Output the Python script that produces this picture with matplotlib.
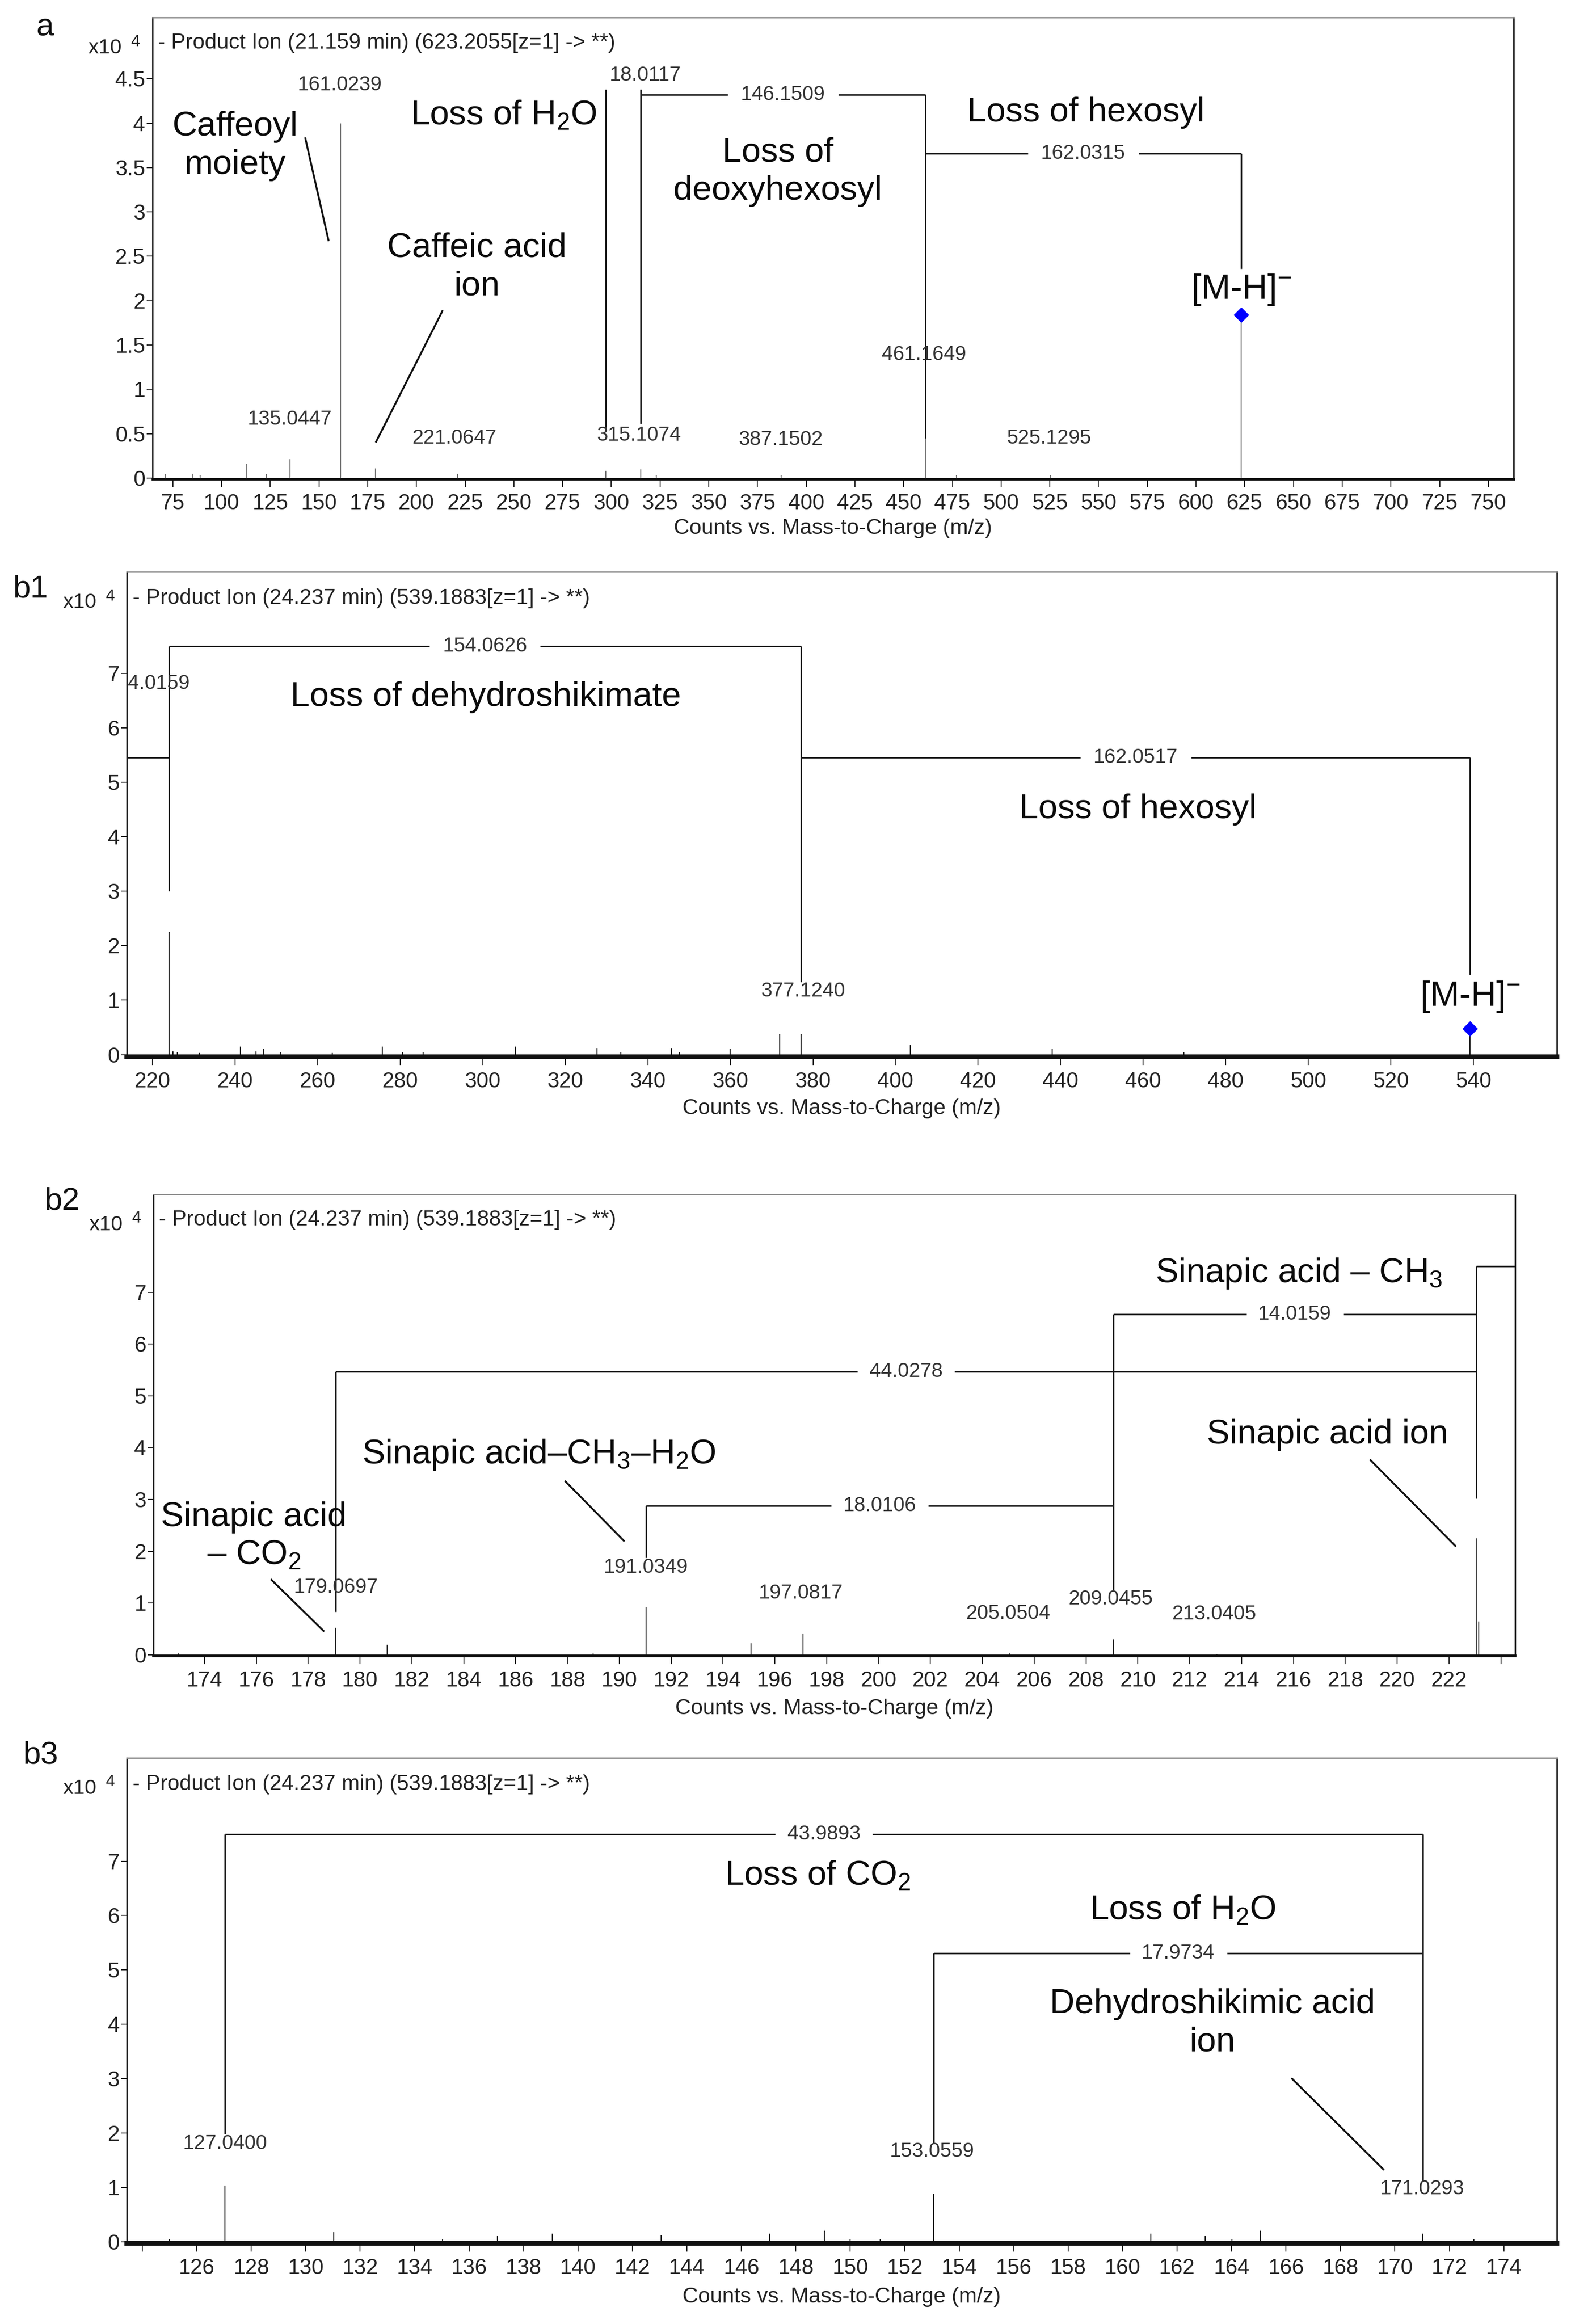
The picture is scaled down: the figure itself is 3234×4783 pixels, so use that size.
import matplotlib
matplotlib.use('Agg')
import matplotlib.pyplot as plt
from matplotlib import font_manager

W, H, DPI = 3234, 4783, 100
PT = DPI / 72.0

plt.rcParams['font.family'] = ['Liberation Sans', 'DejaVu Sans']
plt.rcParams['mathtext.fontset'] = 'custom'
plt.rcParams['mathtext.rm'] = 'Liberation Sans'
plt.rcParams['mathtext.it'] = 'Liberation Sans'
plt.rcParams['mathtext.bf'] = 'Liberation Sans:bold'
plt.rcParams['mathtext.sf'] = 'Liberation Sans'

try:
    font_manager.findfont(font_manager.FontProperties(family='Liberation Sans Narrow'),
                          fallback_to_default=False)
    TICK_FAMILY = ['Liberation Sans Narrow', 'Liberation Sans']
    TICK_FS = 36
except Exception:
    TICK_FAMILY = ['Liberation Sans', 'DejaVu Sans']
    TICK_FS = 32

# ---------------- data ----------------
# panel a
a_mz = [71.0, 85.0, 89.0, 113.0, 123.0, 135.04, 161.02, 179.03, 221.06, 297.10,
        315.11, 323.0, 387.15, 461.16, 477.0, 525.13, 623.21]
a_int = [0.04, 0.05, 0.03, 0.16, 0.04, 0.21, 4.00, 0.11, 0.05, 0.08,
         0.10, 0.03, 0.03, 0.45, 0.03, 0.03, 1.84]
a_peak_labels = ['135.0447', '161.0239', '221.0647', '315.1074', '387.1502', '461.1649', '525.1295']
a_xticks = list(range(75, 751, 25))
a_yticks = [0, 0.5, 1, 1.5, 2, 2.5, 3, 3.5, 4, 4.5]

# panel b1
b1_mz = [224.02, 225.0, 226.0, 231.3, 241.3, 245.1, 247.0, 251.0, 263.6, 275.7, 280.6,
         285.6, 307.9, 327.7, 333.5, 345.7, 347.7, 359.9, 371.9, 377.12, 403.6, 438.0,
         469.8, 539.19]
b1_int = [2.25, 0.06, 0.05, 0.03, 0.15, 0.06, 0.10, 0.04, 0.03, 0.15, 0.04,
          0.04, 0.15, 0.12, 0.04, 0.12, 0.05, 0.10, 0.38, 0.38, 0.17, 0.10,
          0.05, 0.48]
b1_peak_labels = ['4.0159', '377.1240']
b1_xticks = list(range(220, 541, 20))
b1_yticks = [0, 1, 2, 3, 4, 5, 6, 7]

# panel b2
b2_mz = [173.0, 179.07, 181.04, 189.0, 191.03, 195.08, 197.08, 205.05, 209.05,
         213.04, 223.06, 223.15]
b2_int = [0.03, 0.52, 0.20, 0.03, 0.93, 0.22, 0.40, 0.03, 0.30,
          0.02, 2.25, 0.65]
b2_peak_labels = ['179.0697', '191.0349', '197.0817', '205.0504', '209.0455', '213.0405']
b2_xticks = list(range(174, 225, 2))
b2_yticks = [0, 1, 2, 3, 4, 5, 6, 7]

# panel b3
b3_mz = [125.0, 127.04, 131.03, 135.03, 137.04, 139.05, 143.05, 147.03, 149.05,
         150.0, 151.1, 153.06, 161.04, 163.04, 164.02, 165.07, 171.03, 172.9]
b3_int = [0.05, 1.03, 0.18, 0.05, 0.10, 0.15, 0.12, 0.15, 0.20,
          0.04, 0.04, 0.88, 0.15, 0.10, 0.05, 0.20, 0.15, 0.05]
b3_peak_labels = ['127.0400', '153.0559', '171.0293']
b3_xticks = list(range(124, 175, 2))
b3_yticks = [0, 1, 2, 3, 4, 5, 6, 7]

headers = ['- Product Ion (21.159 min) (623.2055[z=1] -> **)',
           '- Product Ion (24.237 min) (539.1883[z=1] -> **)',
           '- Product Ion (24.237 min) (539.1883[z=1] -> **)',
           '- Product Ion (24.237 min) (539.1883[z=1] -> **)']
xlabel = 'Counts vs. Mass-to-Charge (m/z)'

# ---------------- styles ----------------
LINE_C = '#1a1a1a'
NUM_C = '#333333'
NUM_FS = 30
ANN_FS = 51

fig = plt.figure(figsize=(W / DPI, H / DPI), dpi=DPI)


def rect(l, r, t, b):
    return [l / W, 1 - b / H, (r - l) / W, (b - t) / H]


def fmt(v):
    return ('%g' % v)


def make_axes(px, xlim, ylim, xticks, yticks, hide_x=(), header='', xlab_off=75,
              base_lw=3.5):
    ax = fig.add_axes(rect(*px))
    ax.set_xlim(*xlim)
    ax.set_ylim(*ylim)
    ax.set_xticks(xticks)
    ax.set_xticklabels(['' if t in hide_x else fmt(t) for t in xticks],
                       family=TICK_FAMILY)
    ax.set_yticks(yticks)
    ax.set_yticklabels([fmt(t) for t in yticks], family=TICK_FAMILY)
    ax.tick_params(axis='x', direction='out', length=12, width=1.5, pad=10,
                   labelsize=TICK_FS, colors='#222222')
    ax.tick_params(axis='y', direction='out', length=9, width=1.5, pad=1.5,
                   labelsize=TICK_FS, colors='#222222')
    ax.spines['top'].set_color('#8a8a8a')
    ax.spines['top'].set_linewidth(2.0)
    ax.spines['right'].set_color('#111111')
    ax.spines['right'].set_linewidth(2.2)
    ax.spines['left'].set_color('#111111')
    ax.spines['left'].set_linewidth(2.0)
    ax.spines['bottom'].set_color('#111111')
    ax.spines['bottom'].set_linewidth(base_lw)
    ax.text(0.004, 0.945, header, transform=ax.transAxes, ha='left', va='center',
            fontsize=32, color='#222222')
    ax.annotate(xlabel, xy=(0.5, 0), xycoords='axes fraction',
                xytext=(0, -xlab_off), textcoords='offset points',
                ha='center', va='center', fontsize=TICK_FS, color='#222222',
                family=TICK_FAMILY)
    ax.annotate('x10', xy=(0, 1), xycoords='axes fraction', xytext=(-70, -45),
                textcoords='offset points', ha='center', va='center',
                fontsize=31, color='#222222')
    ax.annotate('4', xy=(0, 1), xycoords='axes fraction', xytext=(-25, -36),
                textcoords='offset points', ha='center', va='center',
                fontsize=24, color='#222222')
    return ax


def peaks(ax, mz, inten, color):
    ax.vlines(mz, 0, inten, colors=color, lw=1.6, zorder=2)


def vseg(ax, x, y0, y1):
    ax.vlines([x], y0, y1, colors=LINE_C, lw=2.3, zorder=3)


def hbracket(ax, x0, x1, y, label=None, xc=None, half_px=None):
    if label is None:
        ax.hlines([y], x0, x1, colors=LINE_C, lw=2.3, zorder=3)
        return
    if xc is None:
        xc = 0.5 * (x0 + x1)
    if half_px is None:
        half_px = 14.0 * len(label) + 2
    p = ax.transData.transform((xc, y))
    xl = ax.transData.inverted().transform((p[0] - half_px, p[1]))[0]
    xr = ax.transData.inverted().transform((p[0] + half_px, p[1]))[0]
    ax.hlines([y, y], [x0, xr], [xl, x1], colors=LINE_C, lw=2.3, zorder=3)
    ax.text(xc, y, label, ha='center', va='center', fontsize=NUM_FS, color=NUM_C, zorder=4)


def leader(ax, p0, p1):
    ax.plot([p0[0], p1[0]], [p0[1], p1[1]], color='#111111', lw=2.8,
            solid_capstyle='butt', zorder=3)


def num(ax, x, y, s, **kw):
    ax.text(x, y, s, ha=kw.pop('ha', 'center'), va='center', fontsize=NUM_FS,
            color=NUM_C, zorder=4, **kw)


def ann(ax, x, y, s, fs=ANN_FS):
    ax.text(x, y, s, ha='center', va='center', fontsize=fs, color='#0a0a0a',
            linespacing=1.25, zorder=4)


def panel_label(px, py, s):
    fig.text(px / W, 1 - py / H, s, ha='center', va='center', fontsize=47, color='#111111')


# ================= panel a =================
axa = make_axes((313.6, 3116, 36.5, 985.6), (64.5, 763), (-0.01, 5.19),
                a_xticks, a_yticks, header=headers[0], xlab_off=(1087 - 985.6) / PT,
                base_lw=3.5)
peaks(axa, a_mz, a_int, '#707070')
vseg(axa, a_mz[9], 0.57, 4.38)
vseg(axa, a_mz[10], 0.61, 4.38)
vseg(axa, a_mz[13], 0.45, 4.32)
vseg(axa, a_mz[16], 2.36, 3.66)
hbracket(axa, a_mz[10], a_mz[13], 4.32, '146.1509')
hbracket(axa, a_mz[13], a_mz[16], 3.66, '162.0315')
num(axa, 317.5, 4.54, '18.0117')
num(axa, 135.06, 0.66, a_peak_labels[0])
num(axa, 160.8, 4.43, a_peak_labels[1])
num(axa, 219.7, 0.45, a_peak_labels[2])
num(axa, 314.2, 0.48, a_peak_labels[3])
num(axa, 386.9, 0.43, a_peak_labels[4])
num(axa, 460.4, 1.39, a_peak_labels[5])
num(axa, 524.6, 0.45, a_peak_labels[6])
axa.plot([a_mz[16]], [a_int[16]], marker='D', color='#0000ff', ms=15, mec='#0000ff', zorder=5)
ann(axa, 107, 3.745, 'Caffeoyl\nmoiety')
leader(axa, (142.9, 3.84), (155.0, 2.67))
ann(axa, 231.1, 2.375, 'Caffeic acid\nion')
leader(axa, (213.5, 1.89), (179.1, 0.40))
ann(axa, 244.7, 4.08, 'Loss of H$_2$O')
ann(axa, 385.4, 3.45, 'Loss of\ndeoxyhexosyl')
ann(axa, 543.5, 4.12, 'Loss of hexosyl')
ann(axa, 623.2, 2.12, '[M-H]$^{-}$', fs=52)
panel_label(92.6, 56, 'a')

# ================= panel b1 =================
axb1 = make_axes((261, 3205, 1177, 2175), (213.8, 560.2), (-0.04, 8.86),
                 b1_xticks, b1_yticks, header=headers[1], xlab_off=(2282 - 2175) / PT,
                 base_lw=7)
peaks(axb1, b1_mz, b1_int, '#111111')
vseg(axb1, b1_mz[0], 3.0, 7.5)
vseg(axb1, b1_mz[19], 1.33, 7.5)
vseg(axb1, b1_mz[23], 1.47, 5.45)
hbracket(axb1, b1_mz[0], b1_mz[19], 7.5, '154.0626')
hbracket(axb1, b1_mz[19], b1_mz[23], 5.45, '162.0517')
hbracket(axb1, 213.8, b1_mz[0], 5.45)
axb1.text(214.0, 6.81, b1_peak_labels[0], ha='left', va='center', fontsize=NUM_FS,
          color=NUM_C, clip_on=True, zorder=4)
num(axb1, 377.6, 1.16, b1_peak_labels[1])
axb1.plot([b1_mz[23]], [b1_int[23]], marker='D', color='#0000ff', ms=15, mec='#0000ff', zorder=5)
ann(axb1, 300.7, 6.56, 'Loss of dehydroshikimate')
ann(axb1, 458.7, 4.5, 'Loss of hexosyl')
ann(axb1, 539.19, 1.06, '[M-H]$^{-}$', fs=52)
panel_label(63, 1212, 'b1')

# ================= panel b2 =================
axb2 = make_axes((315.7, 3119, 2458, 3408), (172.03, 224.55), (-0.02, 8.89),
                 b2_xticks, b2_yticks, hide_x=(224,), header=headers[2],
                 xlab_off=(3516.5 - 3408) / PT, base_lw=4)
peaks(axb2, b2_mz, b2_int, '#333333')
vseg(axb2, b2_mz[1], 0.83, 5.47)
vseg(axb2, b2_mz[4], 1.87, 2.88)
vseg(axb2, b2_mz[8], 1.26, 6.57)
vseg(axb2, b2_mz[10], 3.02, 7.5)
hbracket(axb2, b2_mz[1], b2_mz[10], 5.47, '44.0278')
hbracket(axb2, b2_mz[4], b2_mz[8], 2.88, '18.0106')
hbracket(axb2, b2_mz[8], b2_mz[10], 6.57, '14.0159')
hbracket(axb2, b2_mz[10], 224.55, 7.5)
num(axb2, 179.07, 1.30, b2_peak_labels[0])
num(axb2, 191.03, 1.69, b2_peak_labels[1])
num(axb2, 197.0, 1.19, b2_peak_labels[2])
num(axb2, 205.0, 0.80, b2_peak_labels[3])
num(axb2, 208.96, 1.08, b2_peak_labels[4])
num(axb2, 212.95, 0.79, b2_peak_labels[5])
ann(axb2, 175.9, 2.28, 'Sinapic acid\n\u2013 CO$_2$')
leader(axb2, (176.56, 1.46), (178.62, 0.45))
ann(axb2, 186.9, 3.86, 'Sinapic acid\u2013CH$_3$\u2013H$_2$O')
leader(axb2, (187.9, 3.36), (190.2, 2.19))
ann(axb2, 216.2, 7.36, 'Sinapic acid \u2013 CH$_3$')
ann(axb2, 217.3, 4.25, 'Sinapic acid ion')
leader(axb2, (218.95, 3.77), (222.27, 2.09))
panel_label(128, 2472, 'b2')

# ================= panel b3 =================
axb3 = make_axes((261, 3205, 3618, 4617), (123.43, 175.95), (-0.03, 8.90),
                 b3_xticks, b3_yticks, hide_x=(124,), header=headers[3],
                 xlab_off=(4727 - 4617) / PT, base_lw=7)
peaks(axb3, b3_mz, b3_int, '#111111')
vseg(axb3, b3_mz[1], 1.98, 7.5)
vseg(axb3, b3_mz[11], 1.80, 5.31)
vseg(axb3, b3_mz[16], 1.12, 7.5)
hbracket(axb3, b3_mz[1], b3_mz[16], 7.5, '43.9893')
hbracket(axb3, b3_mz[11], b3_mz[16], 5.31, '17.9734')
num(axb3, 127.04, 1.80, b3_peak_labels[0])
num(axb3, 153.0, 1.66, b3_peak_labels[1])
num(axb3, 171.0, 0.97, b3_peak_labels[2])
ann(axb3, 148.8, 6.72, 'Loss of CO$_2$')
ann(axb3, 162.2, 6.09, 'Loss of H$_2$O')
ann(axb3, 163.3, 4.02, 'Dehydroshikimic acid\nion')
leader(axb3, (166.2, 3.01), (169.6, 1.32))
panel_label(84, 3612, 'b3')

fig.savefig('out.png', dpi=DPI, facecolor='white')
